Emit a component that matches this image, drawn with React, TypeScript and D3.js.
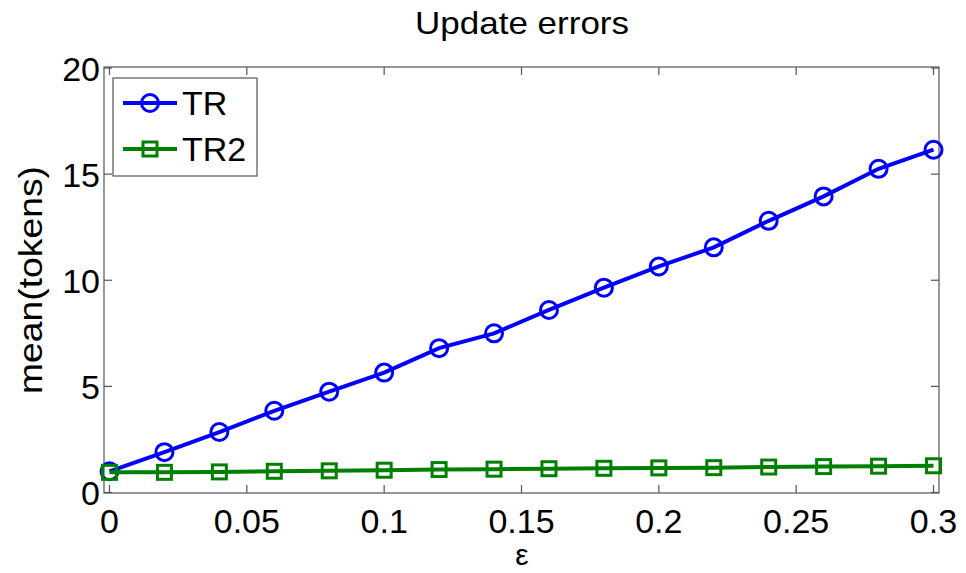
import React from "react";
import * as d3 from "d3";

const xValues = [0, 0.02, 0.04, 0.06, 0.08, 0.1, 0.12, 0.14, 0.16, 0.18, 0.2, 0.22, 0.24, 0.26, 0.28, 0.3];
const trValues = [1.0, 1.9, 2.85, 3.85, 4.75, 5.65, 6.8, 7.5, 8.6, 9.65, 10.65, 11.55, 12.8, 13.95, 15.25, 16.15];
const tr2Values = [0.95, 0.95, 0.97, 1.0, 1.02, 1.05, 1.08, 1.1, 1.12, 1.14, 1.16, 1.17, 1.2, 1.22, 1.24, 1.26];
const xTicks = [0, 0.05, 0.1, 0.15, 0.2, 0.25, 0.3];
const xTickLabels = ["0", "0.05", "0.1", "0.15", "0.2", "0.25", "0.3"];
const yTicks = [0, 5, 10, 15, 20];

const W = 966, H = 573;
const L = 104, R = 939, T = 67, B = 493;
const FONT = "Liberation Sans, Arial, sans-serif";

export default function App() {
  const x = d3.scaleLinear().domain([-0.002, 0.302]).range([L, R]);
  const y = d3.scaleLinear().domain([0, 20]).range([492.5, 68]);
  const line = d3.line<number>().x((_, i) => x(xValues[i])).y((d) => y(d));
  const tick = 8;
  const blue = "#0000ff", green = "#008000";
  return (
    <svg width={W} height={H} style={{ display: "block", position: "absolute", left: 0, top: 0 }} fontFamily={FONT}>
      <rect x={0} y={0} width={W} height={H} fill="#fff" />
      <text x={522} y={34} fontSize={32} textAnchor="middle" textLength={214} lengthAdjust="spacingAndGlyphs" fill="#000">Update errors</text>
      {/* axes box */}
      <rect x={L} y={T} width={R - L} height={B - T} fill="none" stroke="#555" strokeWidth={1.2} />
      {xTicks.map((t, i) => (
        <g key={"x" + i}>
          <line x1={x(t)} x2={x(t)} y1={B} y2={B - tick} stroke="#555" strokeWidth={1.2} />
          <line x1={x(t)} x2={x(t)} y1={T} y2={T + tick} stroke="#555" strokeWidth={1.2} />
          <text x={x(t)} y={533} fontSize={34} textAnchor="middle" fill="#000">{xTickLabels[i]}</text>
        </g>
      ))}
      {yTicks.map((t, i) => (
        <g key={"y" + i}>
          <line x1={L} x2={L + tick} y1={y(t)} y2={y(t)} stroke="#555" strokeWidth={1.2} />
          <line x1={R} x2={R - tick} y1={y(t)} y2={y(t)} stroke="#555" strokeWidth={1.2} />
          <text x={100} y={y(t) + 12.5} fontSize={34} textAnchor="end" fill="#000">{t}</text>
        </g>
      ))}
      <text x={522} y={565} fontSize={30} textAnchor="middle" fill="#000">ε</text>
      <text transform={`translate(42,280) rotate(-90)`} fontSize={33} textAnchor="middle" textLength={228} lengthAdjust="spacingAndGlyphs" fill="#000">mean(tokens)</text>
      {/* series */}
      <path d={line(trValues) || ""} fill="none" stroke={blue} strokeWidth={4} />
      {trValues.map((v, i) => (
        <circle key={"c" + i} cx={x(xValues[i])} cy={y(v)} r={8.5} fill="none" stroke={blue} strokeWidth={3} />
      ))}
      <path d={line(tr2Values) || ""} fill="none" stroke={green} strokeWidth={4} />
      {tr2Values.map((v, i) => (
        <rect key={"s" + i} x={x(xValues[i]) - 7} y={y(v) - 7} width={14} height={14} fill="none" stroke={green} strokeWidth={3} />
      ))}
      {/* legend */}
      <rect x={113} y={78} width={144} height={98} fill="#fff" stroke="#555" strokeWidth={1.2} />
      <line x1={123} x2={177} y1={103} y2={103} stroke={blue} strokeWidth={4} />
      <circle cx={150} cy={103} r={8.5} fill="none" stroke={blue} strokeWidth={3} />
      <text x={182} y={115} fontSize={34} fill="#000">TR</text>
      <line x1={123} x2={177} y1={149} y2={149} stroke={green} strokeWidth={4} />
      <rect x={143} y={142} width={14} height={14} fill="none" stroke={green} strokeWidth={3} />
      <text x={182} y={161} fontSize={34} fill="#000">TR2</text>
    </svg>
  );
}
